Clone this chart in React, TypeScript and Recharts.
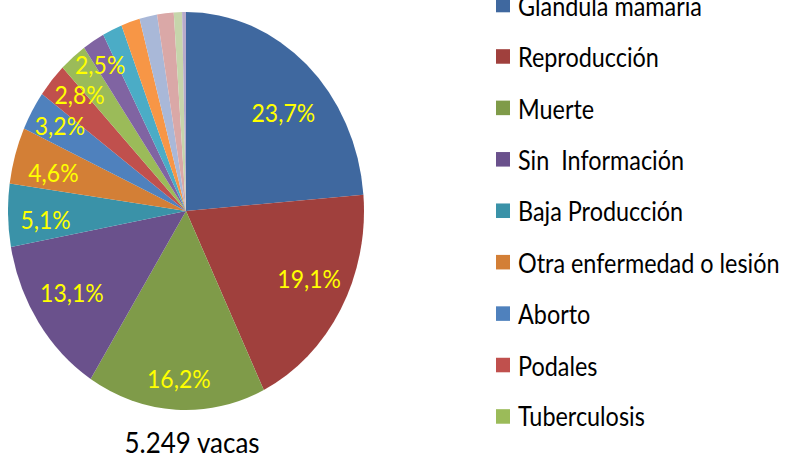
import React from "react"
import { Cell, Legend, Pie, PieChart } from "recharts"

// Causes of culling, in the pie's clockwise order from 12 o'clock
const CAUSES = [
  "Glándula mamaria",
  "Reproducción",
  "Muerte",
  "Sin  Información",
  "Baja Producción",
  "Otra enfermedad o lesión",
  "Aborto",
  "Podales",
  "Tuberculosis",
  "Otras 10",
  "Otras 11",
  "Otras 12",
  "Otras 13",
  "Otras 14",
  "Otras 15",
  "Otras 16",
]
const SHARES = [23.7, 19.1, 16.2, 13.1, 5.1, 4.6, 3.2, 2.8, 2.5, 2.0, 1.8, 1.7, 1.6, 1.5, 0.75, 0.35]
const COLORS = [
  "#3F689F", "#A0403D", "#7F9B49", "#6A518C", "#3A92A8", "#D37F36",
  "#4F81BD", "#C0504D", "#9BBB59", "#8064A2", "#4BACC6", "#F79646",
  "#A9B8D8", "#DAA8A7", "#C6D5AB", "#B7AACB",
]
const LABELLED = 9
const LEGEND_ITEMS = 9
const TOTAL_TEXT = "5.249 vacas"

// label placement tweaks (radius fraction, angle shift in degrees)
const LABEL_R = [0.74, 0.77, 0.84, 0.76, 0.79, 0.77, 0.83, 0.84, 0.88]
const LABEL_SHIFT = [-5, 3.7, 0.5, -1.5, 1.6, 1.5, -1.2, -3.6, -6.2]

const STRETCH = 1.118 // the reference is vertically stretched
const FONT = "Lato, 'Open Sans', sans-serif"
const RADIAN = Math.PI / 180

const data = CAUSES.map((name, i) => ({ name, value: SHARES[i] }))

function renderLabel(props: any) {
  const { cx, cy, midAngle, outerRadius, index, value } = props
  if (index >= LABELLED) return null
  const a = (midAngle + LABEL_SHIFT[index]) * RADIAN
  const r = outerRadius * LABEL_R[index]
  const x = cx + r * Math.cos(a)
  const y = cy - r * Math.sin(a)
  return (
    <text
      x={x}
      y={y}
      fill="#FFFF00"
      textAnchor="middle"
      dominantBaseline="central"
      fontSize={23}
      fontFamily={FONT}
    >
      {`${Number(value).toFixed(1).replace(".", ",")}%`}
    </text>
  )
}

function LegendList(props: any) {
  const items = [...(props.payload || [])]
    .sort((a: any, b: any) => CAUSES.indexOf(a.value) - CAUSES.indexOf(b.value))
    .slice(0, LEGEND_ITEMS)
  return (
    <div style={{ fontFamily: FONT, fontSize: 23.4, color: "#000" }}>
      {items.map((entry: any, i: number) => (
        <div key={i} style={{ height: 45.94, display: "flex", alignItems: "center", whiteSpace: "pre" }}>
          <span style={{ width: 14, height: 13, background: entry.color, display: "inline-block", marginRight: 8 }} />
          <span>{entry.value}</span>
        </div>
      ))}
    </div>
  )
}

export default function App() {
  return (
    <div style={{ position: "absolute", left: 0, top: 0, width: 785, height: 458, overflow: "hidden", background: "#fff" }}>
      <div style={{ position: "relative", width: 785, height: 410, transform: `scaleY(${STRETCH})`, transformOrigin: "0 0" }}>
        <PieChart width={785} height={410} margin={{ top: 0, right: 0, bottom: 0, left: 0 }}>
          <Pie
            data={data}
            dataKey="value"
            nameKey="name"
            cx={186}
            cy={188.7}
            outerRadius={178}
            startAngle={90}
            endAngle={-270}
            stroke="none"
            label={renderLabel}
            labelLine={false}
            isAnimationActive={false}
          >
            {data.map((d, i) => (
              <Cell key={d.name} fill={COLORS[i]} />
            ))}
          </Pie>
          <Legend
            layout="vertical"
            align="right"
            verticalAlign="top"
            content={LegendList}
            wrapperStyle={{ position: "absolute", left: 496, top: -18, width: 289 }}
          />
        </PieChart>
        <div
          style={{
            position: "absolute",
            left: 92,
            width: 200,
            top: 384,
            lineHeight: "22px",
            textAlign: "center",
            fontFamily: FONT,
            fontSize: 26,
            color: "#000",
          }}
        >
          {TOTAL_TEXT}
        </div>
      </div>
    </div>
  )
}
